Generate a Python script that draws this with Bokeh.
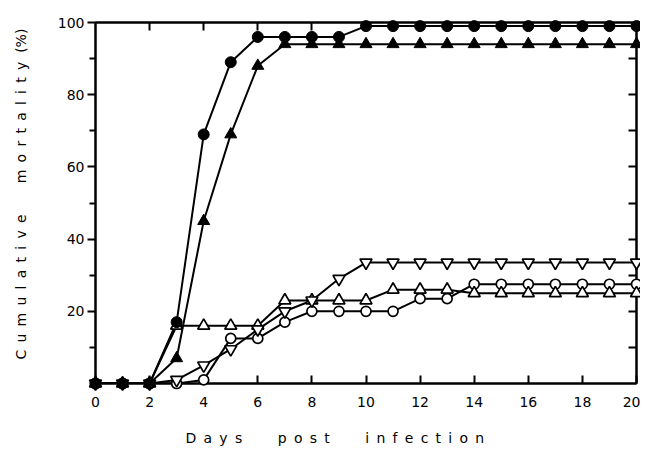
from bokeh.plotting import figure
from bokeh.models import FixedTicker, LinearAxis, Range1d
from bokeh.embed import file_html
from bokeh.resources import INLINE

days = list(range(0, 21))
filled_circle = [0, 0, 0, 17, 69, 89, 96, 96, 96, 96, 99, 99, 99, 99, 99, 99, 99, 99, 99, 99, 99]
filled_triangle = [0, 0, 0, 7, 45, 69, 88, 94, 94, 94, 94, 94, 94, 94, 94, 94, 94, 94, 94, 94, 94]
open_triangle = [0, 0, 0, 16, 16, 16, 16, 23, 23, 23, 23, 26, 26, 26, 25, 25, 25, 25, 25, 25, 25]
open_triangle_down = [0, 0, 0, 1, 5, 9.5, 15, 20, 23, 29, 33.5, 33.5, 33.5, 33.5, 33.5, 33.5, 33.5, 33.5, 33.5, 33.5, 33.5]
open_circle = [0, 0, 0, 0, 1, 12.5, 12.5, 17, 20, 20, 20, 20, 23.5, 23.5, 27.5, 27.5, 27.5, 27.5, 27.5, 27.5, 27.5]

x_ticks = [0, 2, 4, 6, 8, 10, 12, 14, 16, 18, 20]
y_ticks = [20, 40, 60, 80, 100]
y_minor = [10, 30, 50, 70, 90]

FONT = "DejaVu Sans"
LSEP = "\u00a0\u2009"
NB = "\u00a0"


def spaced(words, gap):
    return (NB * gap).join(LSEP.join(w) for w in words)


x_label = spaced(["Days", "post", "infection"], 8) + NB * 14
y_label = NB * 4 + spaced(["Cumulative", "mortality"], 7) + NB * 2 + "(%)"

p = figure(width=640, height=448, output_backend="svg", toolbar_location=None,
           x_range=Range1d(0, 20), y_range=Range1d(0, 100),
           min_border_left=95, min_border_right=4, min_border_top=22, min_border_bottom=62)
p.grid.visible = False
p.outline_line_color = "black"
p.outline_line_width = 2
p.background_fill_color = "white"
p.border_fill_color = "white"

xa = p.xaxis[0]
xa.ticker = FixedTicker(ticks=x_ticks, minor_ticks=[])
xa.major_tick_in = 8
xa.major_tick_out = 0
xa.minor_tick_line_color = None
xa.axis_line_width = 2
xa.major_tick_line_width = 2
xa.major_label_text_font = FONT
xa.major_label_text_font_size = "14px"
xa.major_label_text_color = "black"
xa.major_label_standoff = 13
xa.axis_label = x_label
xa.axis_label_text_font = FONT
xa.axis_label_text_font_size = "14px"
xa.axis_label_text_font_style = "normal"
xa.axis_label_text_color = "black"
xa.axis_label_standoff = 20

ya = p.yaxis[0]
ya.ticker = FixedTicker(ticks=y_ticks, minor_ticks=y_minor)
ya.major_tick_in = 0
ya.major_tick_out = 8
ya.minor_tick_in = 0
ya.minor_tick_out = 6
ya.axis_line_width = 2
ya.major_tick_line_width = 2
ya.minor_tick_line_width = 2
ya.major_label_text_font = FONT
ya.major_label_text_font_size = "14px"
ya.major_label_text_color = "black"
ya.major_label_standoff = 3
ya.axis_label = y_label
ya.axis_label_text_font = FONT
ya.axis_label_text_font_size = "14px"
ya.axis_label_text_font_style = "normal"
ya.axis_label_text_color = "black"
ya.axis_label_standoff = 26

ra = LinearAxis(ticker=FixedTicker(ticks=y_minor + y_ticks[:-1], minor_ticks=[]),
                major_tick_in=8, major_tick_out=0, minor_tick_line_color=None,
                axis_line_width=2, major_tick_line_width=2,
                major_label_text_font_size="0px", major_label_standoff=0)
p.add_layout(ra, "right")
ta = LinearAxis(ticker=FixedTicker(ticks=x_ticks[1:-1], minor_ticks=[]),
                major_tick_in=8, major_tick_out=0, minor_tick_line_color=None,
                axis_line_width=2, major_tick_line_width=2,
                major_label_text_font_size="0px", major_label_standoff=0)
p.add_layout(ta, "above")

LW = 2
p.line(days, open_circle, line_color="black", line_width=LW)
p.line(days, open_triangle, line_color="black", line_width=LW)
p.line(days, open_triangle_down, line_color="black", line_width=LW)
p.line(days, filled_triangle, line_color="black", line_width=LW)
p.line(days, filled_circle, line_color="black", line_width=LW)

p.scatter(days, open_circle, marker="circle", size=10, fill_color="white", line_color="black", line_width=1.7, level="overlay")
p.scatter(days, open_triangle, marker="triangle", size=12, fill_color="white", line_color="black", line_width=1.7, level="overlay")
p.scatter(days, open_triangle_down, marker="inverted_triangle", size=12, fill_color="white", line_color="black", line_width=1.7, level="overlay")
p.scatter(days, filled_triangle, marker="triangle", size=12, fill_color="black", line_color="black", line_width=1, level="overlay")
p.scatter(days, filled_circle, marker="circle", size=11, fill_color="black", line_color="black", line_width=1, level="overlay")

open("out.html", "w").write(file_html(p, INLINE))
